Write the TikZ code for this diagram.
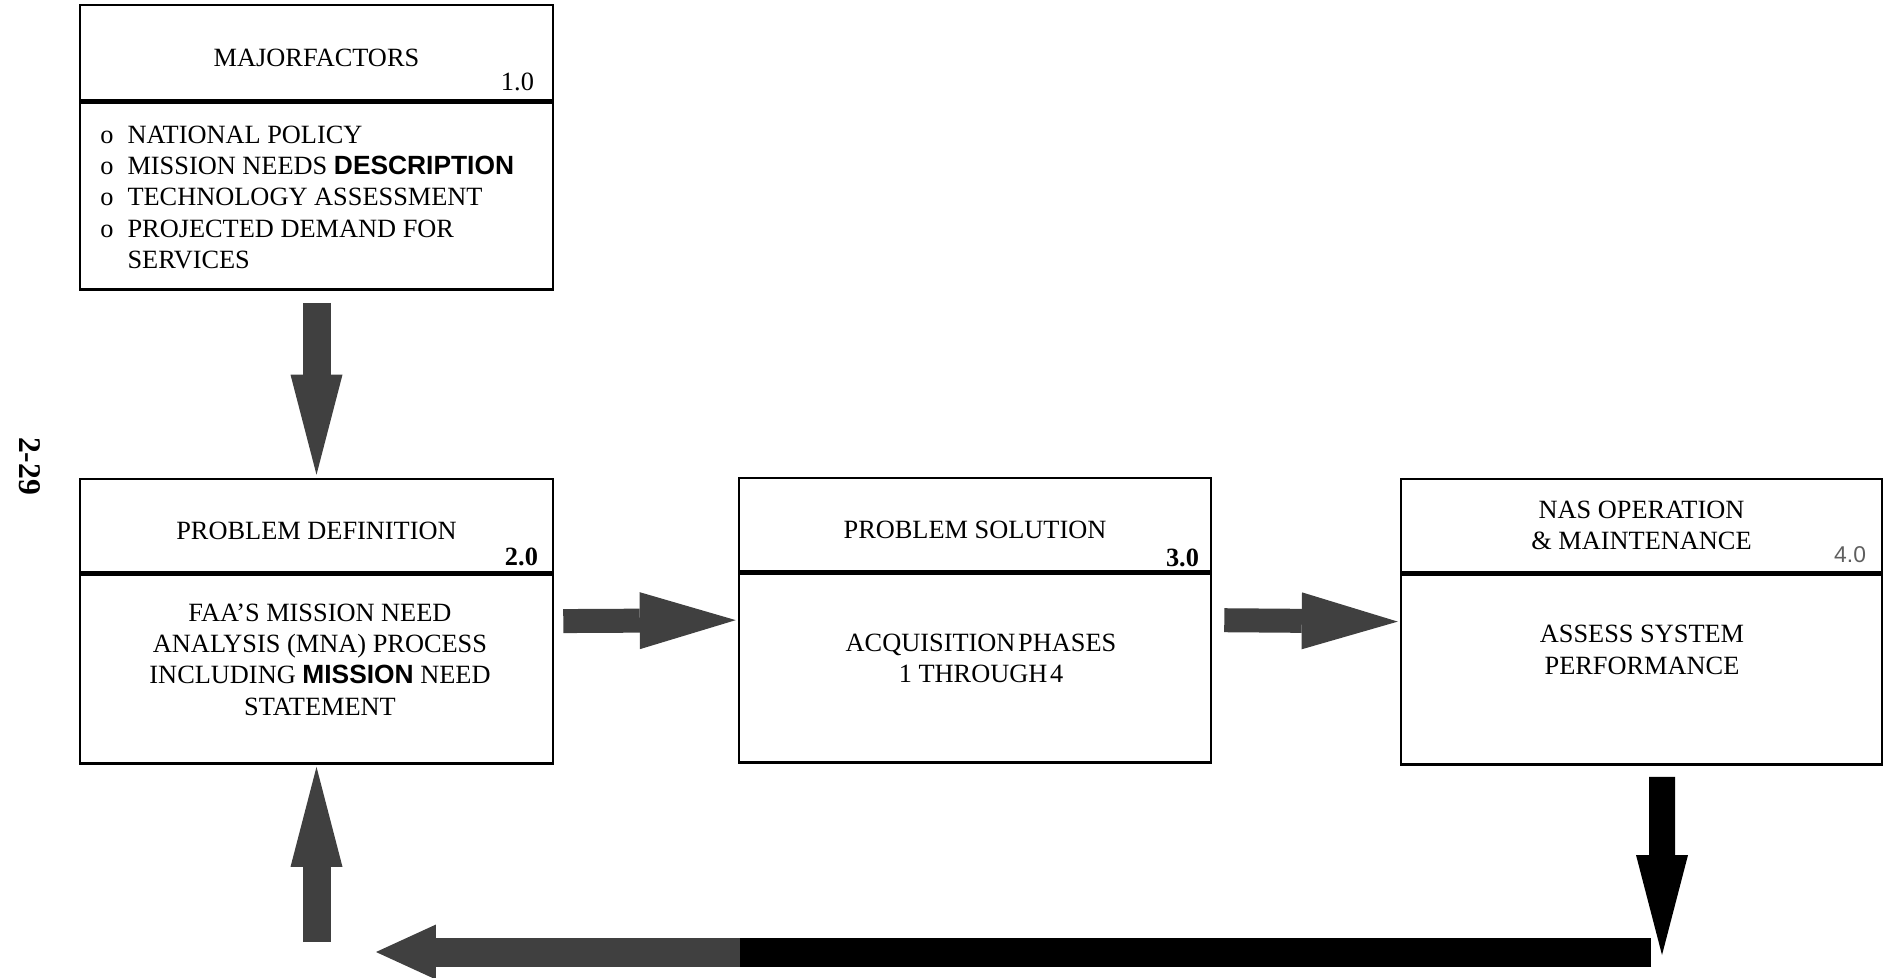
\documentclass[tikz,border=0pt]{standalone}
\usepackage{fontspec}
\setmainfont{Liberation Serif}
\setsansfont{Liberation Sans}
\usetikzlibrary{arrows.meta}

\definecolor{arrowgray}{RGB}{64,64,64}
\definecolor{numgray}{RGB}{95,95,95}

\begin{document}
\begin{tikzpicture}[x=0.02cm,y=-0.02cm,
  box/.style={draw,line width=1.5pt,inner sep=0pt,align=center,
    font=\fontsize{15}{17.8}\selectfont},
  head/.style={box,text height=16pt,text depth=0pt},
  txt/.style={inner sep=0pt,align=center,font=\fontsize{15}{17.8}\selectfont},
  num/.style={inner sep=0pt,anchor=south east,font=\fontsize{15}{17.8}\selectfont},
  varrow/.style={line width=0.56cm,-{Triangle[length=2cm,width=1.04cm,line width=0pt]}},
  harrow/.style={line width=0.48cm,-{Triangle[length=1.92cm,width=1.14cm,line width=0pt]}}]
  \useasboundingbox (0,0) rectangle (1888,977);

  %page number
  \node[txt,rotate=-90,font=\fontsize{18}{20}\selectfont\bfseries] (page) at (30,466) {2-29};

  %major factors
  \node[head,minimum width=9.46cm,minimum height=1.9cm] (maj-head) at (316.5,52.5)
    {MAJORFACTORS};
  \node[box,anchor=north,minimum width=9.46cm,minimum height=3.74cm] (maj-body)
    at (maj-head.south) {};
  \node[num] (maj-num) at ([xshift=-0.4cm,yshift=0.2cm]maj-head.south east) {1.0};
  \node[txt,anchor=north west] (maj-list) at (100,121) {%
    \begin{tabular}{@{}l@{\hspace{0.28cm}}l@{}}
      o & NATIONAL POLICY\\
      o & MISSION NEEDS {\sffamily\bfseries DESCRIPTION}\\
      o & TECHNOLOGY ASSESSMENT\\
      o & PROJECTED DEMAND FOR\\
        & SERVICES
    \end{tabular}};

  %problem definition
  \node[head,minimum width=9.46cm,minimum height=1.86cm] (def-head) at (316.5,525.5)
    {PROBLEM DEFINITION};
  \node[box,anchor=north,minimum width=9.46cm,minimum height=3.78cm] (def-body)
    at (def-head.south) {};
  \node[num,font=\fontsize{15}{17.8}\selectfont\bfseries] (def-num)
    at ([xshift=-0.32cm,yshift=0.14cm]def-head.south east) {2.0};
  \node[txt] (def-text) at (320,659.5)
    {FAA'S MISSION NEED\\ANALYSIS (MNA) PROCESS\\
     INCLUDING {\sffamily\bfseries MISSION} NEED\\STATEMENT};

  %problem solution
  \node[head,minimum width=9.44cm,minimum height=1.86cm] (sol-head) at (975,524.5)
    {PROBLEM SOLUTION};
  \node[box,anchor=north,minimum width=9.44cm,minimum height=3.78cm] (sol-body)
    at (sol-head.south) {};
  \node[num,font=\fontsize{15}{17.8}\selectfont\bfseries] (sol-num)
    at ([xshift=-0.26cm,yshift=0.1cm]sol-head.south east) {3.0};
  \node[txt] (sol-text) at (981,658.5)
    {ACQUISITION\hspace{0.1em}PHASES\\1 THROUGH\hspace{0.1em}4};

  %operation
  \node[box,minimum width=9.62cm,minimum height=1.86cm] (ops-head) at (1641.5,525.5)
    {NAS OPERATION\\\& MAINTENANCE};
  \node[box,anchor=north,minimum width=9.62cm,minimum height=3.8cm] (ops-body)
    at (ops-head.south) {};
  \node[num,font=\fontsize{13}{16}\selectfont\sffamily,text=numgray] (ops-num)
    at ([xshift=-0.34cm,yshift=0.2cm]ops-head.south east) {4.0};
  \node[txt] (ops-text) at (1642,650) {ASSESS SYSTEM\\PERFORMANCE};

  %arrows
  \draw[varrow,arrowgray,shorten <=0.24cm,shorten >=0.06cm]
    (maj-body.south) -- (def-head.north);
  \draw[harrow,arrowgray,shorten <=0.18cm,shorten >=0.04cm]
    ([yshift=0.96cm]def-body.east) -- ([yshift=0.96cm]sol-body.west);
  \draw[harrow,arrowgray,shorten <=0.24cm,shorten >=0.04cm]
    ([yshift=0.96cm]sol-body.east) -- ([yshift=0.96cm]ops-body.west);

  %feedback loop
  \coordinate (loop-east) at (1651,952);
  \coordinate (loop-mid) at (740,952);
  \coordinate (loop-west) at (376,952);
  \coordinate (loop-drop) at (1662,955);
  \coordinate (loop-foot) at (316.5,942);
  \draw[line width=0.58cm] (loop-east) -- (loop-mid);
  \draw[line width=0.58cm,arrowgray,-{Triangle[length=1.2cm,width=1.1cm,line width=0pt]}]
    (loop-mid) -- (loop-west);
  \draw[varrow,black,line width=0.52cm,shorten <=0.22cm]
    ([xshift=0.41cm]ops-body.south) -- (loop-drop);
  \draw[varrow,arrowgray,shorten >=0.04cm] (loop-foot) -- (def-body.south);
\end{tikzpicture}
\end{document}
